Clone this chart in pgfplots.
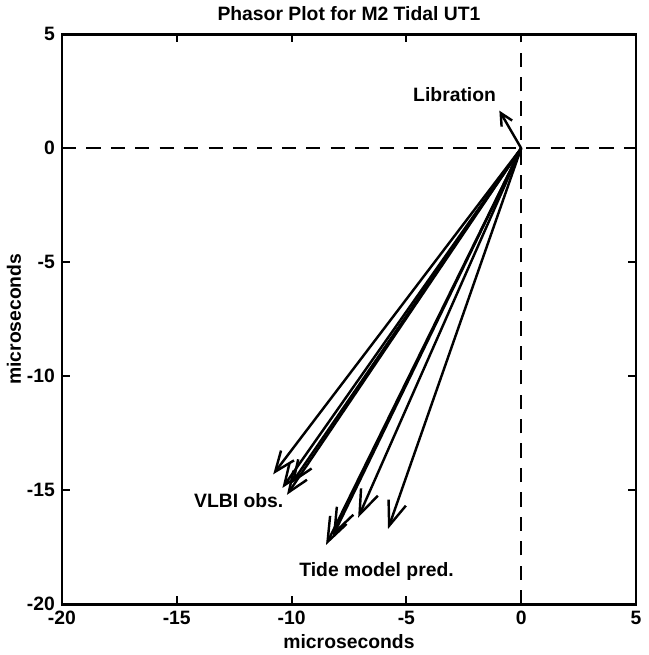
\documentclass[border=0pt]{standalone}
\usepackage{fontspec}
\setmainfont{Liberation Sans}
\usepackage{pgfplots}
\pgfplotsset{compat=1.18}
\usetikzlibrary{arrows.meta}

\pgfplotstableread{
x y u v
0 0 -0.95 1.65
}\libration

\pgfplotstableread{
x y u v
0 0 -10.8 -14.3
0 0 -10.4 -14.9
0 0 -10.2 -15.2
0 0 -10.0 -14.7
}\vlbi

\pgfplotstableread{
x y u v
0 0 -8.5 -17.4
0 0 -8.2 -17.0
0 0 -7.1 -16.2
0 0 -5.8 -16.7
}\tide

\begin{document}
\begin{tikzpicture}
\begin{axis}[
    scale only axis,
    width=282pt, height=280pt,
    xmin=-20, xmax=5, ymin=-20, ymax=5,
    xtick={-20,-15,...,5}, ytick={-20,-15,...,5},
    tick align=inside,
    major tick length=4pt,
    axis line style={line width=1.3pt},
    every tick/.style={black, line width=1pt},
    font=\fontsize{9.5}{11}\selectfont\bfseries,
    tick label style={font=\fontsize{9.5}{11}\selectfont\bfseries},
    /pgf/number format/assume math mode=true,
    title={Phasor Plot for M2 Tidal UT1},
    title style={yshift=-3pt},
    xlabel={microseconds},
    ylabel={microseconds},
    xlabel style={yshift=2.5pt},
    ylabel style={yshift=-4pt},
    clip=false,
]
\draw[line width=1.2pt, dash pattern=on 7pt off 5pt] (axis cs:-20,0) -- (axis cs:5,0);
\draw[line width=1.2pt, dash pattern=on 7pt off 5pt] (axis cs:0,-20) -- (axis cs:0,5);

\addplot[line width=1.2pt, -{Straight Barb[length=6pt, width=6pt]},
    quiver={u=\thisrow{u}, v=\thisrow{v}}] table {\libration};
\addplot[line width=1.2pt, -{Straight Barb[length=10pt, width=8pt]},
    quiver={u=\thisrow{u}, v=\thisrow{v}}] table {\vlbi};
\addplot[line width=1.2pt, -{Straight Barb[length=12pt, width=9pt]},
    quiver={u=\thisrow{u}, v=\thisrow{v}}] table {\tide};

\node at (axis cs:-2.9,2.35) {Libration};
\node at (axis cs:-12.3,-15.45) {VLBI obs.};
\node at (axis cs:-6.3,-18.55) {Tide model pred.};
\end{axis}
\end{tikzpicture}
\end{document}
